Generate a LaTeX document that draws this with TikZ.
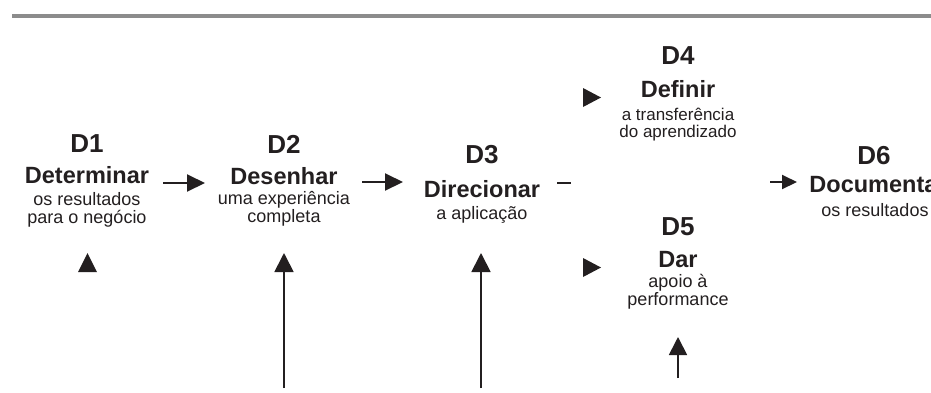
\documentclass[tikz,border=0pt]{standalone}
\usepackage{fontspec}
\setmainfont{Liberation Sans}
\usetikzlibrary{arrows.meta}
\definecolor{ink}{HTML}{231F20}
\definecolor{rulegray}{HTML}{8C8C8C}
\begin{document}
\begin{tikzpicture}[x=1pt,y=-1pt,
  lbl/.style={anchor=base, inner sep=0pt, text=ink, font=\fontsize{26}{26}\selectfont\bfseries},
  verb/.style={anchor=base, inner sep=0pt, text=ink, font=\fontsize{23.5}{23.5}\selectfont\bfseries},
  sub/.style={anchor=base, inner sep=0pt, text=ink, font=\fontsize{18}{18}\selectfont},
  subs/.style={anchor=base, inner sep=0pt, text=ink, font=\fontsize{17}{17}\selectfont},
  harr/.style={draw=ink, line width=2pt, -{Triangle[length=18pt,width=17pt]}},
  varr/.style={draw=ink, line width=1.8pt, -{Triangle[length=19pt,width=19pt]}},
  tri/.style={fill=ink},
]
\useasboundingbox (0,0) rectangle (931,392);
\clip (0,0) rectangle (931,392);
\fill[white] (0,0) rectangle (931,392);

% top rule
\coordinate (r1) at (12,16);
\coordinate (r2) at (931,16);
\draw[rulegray, line width=3.5pt] (r1) -- (r2);

% D1
\node[lbl]  (d1)  at (87,152) {D1};
\node[verb] (d1v) at (87,183) {Determinar};
\node[sub]  (d1a) at (87,205) {os resultados};
\node[sub]  (d1b) at (87,223) {para o negócio};

% D2
\node[lbl]  (d2)  at (284,153) {D2};
\node[verb] (d2v) at (284,184) {Desenhar};
\node[sub]  (d2a) at (284,204) {uma experiência};
\node[sub]  (d2b) at (284,222) {completa};

% D3
\node[lbl]  (d3)  at (482,163) {D3};
\node[verb] (d3v) at (482,197) {Direcionar};
\node[sub]  (d3a) at (482,219) {a aplicação};

% D4
\node[lbl]  (d4)  at (678,64) {D4};
\node[verb] (d4v) at (678,97) {Definir};
\node[subs] (d4a) at (678,120) {a transferência};
\node[subs] (d4b) at (678,137) {do aprendizado};

% D5
\node[lbl]  (d5)  at (678,235) {D5};
\node[verb] (d5v) at (678,267) {Dar};
\node[sub]  (d5a) at (678,287) {apoio à};
\node[sub]  (d5b) at (678,305) {performance};

% D6
\node[lbl]  (d6)  at (874,164) {D6};
\node[verb] (d6v) at (878,192) {Documentar};
\node[sub]  (d6a) at (875,216) {os resultados};

% horizontal arrows
\coordinate (a12s) at (163,183);
\coordinate (a12e) at (205,183);
\draw[harr] (a12s) -- (a12e);
\coordinate (a23s) at (362,182);
\coordinate (a23e) at (403,182);
\draw[harr] (a23s) -- (a23e);
\coordinate (dsh1) at (557,182.5);
\coordinate (dsh2) at (571,182.5);
\draw[ink, line width=2pt] (dsh1) -- (dsh2);
\coordinate (a6s) at (770,182);
\coordinate (a6e) at (797,182);
\draw[draw=ink, line width=2pt, -{Triangle[length=15pt,width=14pt]}] (a6s) -- (a6e);

% vertical arrows
\coordinate (u2s) at (284,388);
\coordinate (u2e) at (284,253);
\draw[varr] (u2s) -- (u2e);
\coordinate (u3s) at (481,388);
\coordinate (u3e) at (481,253);
\draw[varr] (u3s) -- (u3e);
\coordinate (u5s) at (678,378);
\coordinate (u5e) at (678,337);
\draw[draw=ink, line width=1.8pt, -{Triangle[length=18pt,width=18pt]}] (u5s) -- (u5e);

% lone triangles
\fill[tri] (78,272) -- (97,272) -- (87.5,253) -- cycle;
\fill[tri] (583,88) -- (583,107) -- (601,97.5) -- cycle;
\fill[tri] (583,258) -- (583,277) -- (601,267.5) -- cycle;
\end{tikzpicture}
\end{document}
